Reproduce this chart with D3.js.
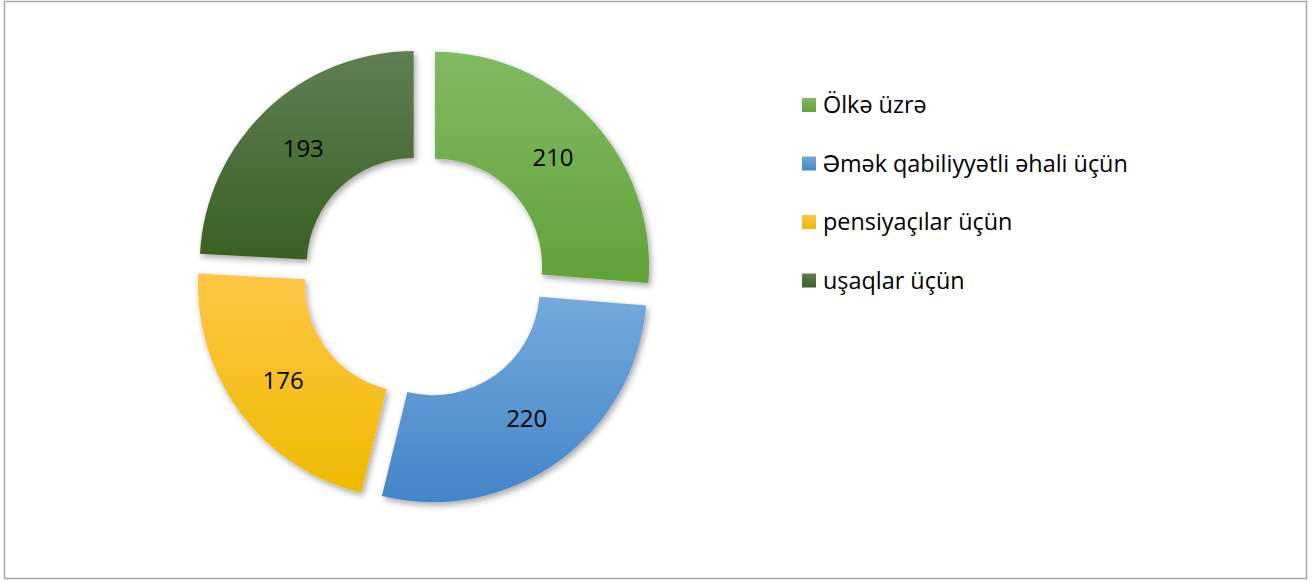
<!DOCTYPE html>
<html>
<head>
<meta charset="utf-8">
<script src="https://cdn.jsdelivr.net/npm/d3@7"></script>
<style>
  body { margin: 0; background: #fff; }
  text { font-family: "Open Sans", Lato, sans-serif; }
</style>
</head>
<body>
<div id="chart"></div>
<script>
var svgWidth = 1312;
var svgHeight = 581;

// data
var categories = ['Ölkə üzrə', 'Əmək qabiliyyətli əhali üçün', 'pensiyaçılar üçün', 'uşaqlar üçün'];
var values = [210, 220, 176, 193];
var topColors = ['#82b963', '#75a9db', '#ffc645', '#5f7f54'];
var bottomColors = ['#60a338', '#4285c9', '#eeba00', '#3a6022'];

var cx = 424, cy = 276;
var outerR = 214, innerR = 107;
var explode = 15;

var svg = d3.select('#chart')
  .append('svg')
  .attr('width', svgWidth)
  .attr('height', svgHeight);

var defs = svg.append('defs');

categories.forEach(function(c, i) {
  var g = defs.append('linearGradient')
    .attr('id', 'grad' + i)
    .attr('x1', 0).attr('y1', 0)
    .attr('x2', 0).attr('y2', 1);
  g.append('stop').attr('offset', '0%').attr('stop-color', topColors[i]);
  g.append('stop').attr('offset', '100%').attr('stop-color', bottomColors[i]);
});

var shadow = defs.append('filter')
  .attr('id', 'shadow')
  .attr('x', '-20%').attr('y', '-20%')
  .attr('width', '140%').attr('height', '140%');
shadow.append('feDropShadow')
  .attr('dx', 2).attr('dy', 3)
  .attr('stdDeviation', 3)
  .attr('flood-color', '#000')
  .attr('flood-opacity', 0.35);

// outer border
svg.append('rect')
  .attr('x', 4.5).attr('y', 1.5)
  .attr('width', 1302).attr('height', 577)
  .attr('fill', 'none')
  .attr('stroke', '#a6a6a6')
  .attr('stroke-width', 1.5);

var pie = d3.pie().sort(null).value(function(d) { return d; });
var arcs = pie(values);

var arc = d3.arc().innerRadius(innerR).outerRadius(outerR);
var labelArc = d3.arc().innerRadius((innerR + outerR) / 2).outerRadius((innerR + outerR) / 2);

var chartGroup = svg.append('g')
  .attr('transform', `translate(${cx}, ${cy})`);

var slices = chartGroup.selectAll('.slice')
  .data(arcs)
  .enter()
  .append('g')
  .attr('class', 'slice')
  .attr('transform', function(d) {
    var a = (d.startAngle + d.endAngle) / 2;
    return `translate(${explode * Math.sin(a)}, ${-explode * Math.cos(a)})`;
  });

slices.append('path')
  .attr('d', arc)
  .attr('fill', function(d, i) { return 'url(#grad' + i + ')'; })
  .attr('filter', 'url(#shadow)');

slices.append('text')
  .attr('transform', function(d) { return `translate(${labelArc.centroid(d)})`; })
  .attr('text-anchor', 'middle')
  .attr('dy', '0.36em')
  .attr('font-size', 24)
  .attr('fill', '#000')
  .text(function(d) { return d.data; });

// legend
var legend = svg.append('g')
  .attr('transform', 'translate(802, 98)');

var items = legend.selectAll('.item')
  .data(categories)
  .enter()
  .append('g')
  .attr('class', 'item')
  .attr('transform', function(d, i) { return `translate(0, ${i * 58.5})`; });

items.append('rect')
  .attr('width', 14).attr('height', 14)
  .attr('fill', function(d, i) { return 'url(#grad' + i + ')'; });

items.append('text')
  .attr('x', 21)
  .attr('y', 7)
  .attr('dy', '0.36em')
  .attr('font-size', 23.4)
  .attr('fill', '#000')
  .text(function(d) { return d; });
</script>
</body>
</html>
